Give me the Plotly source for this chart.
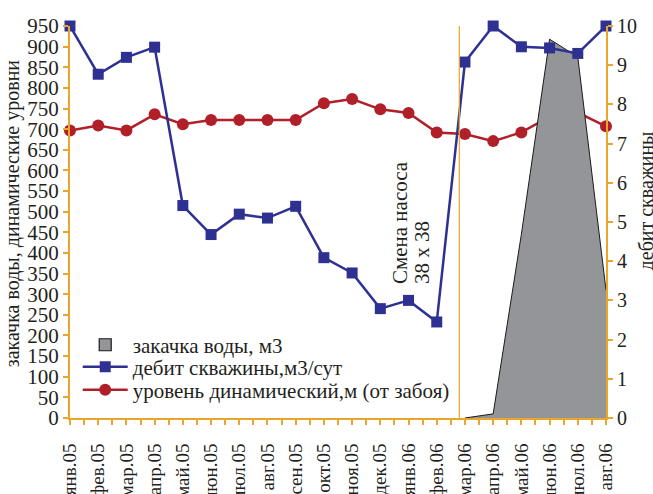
import plotly.graph_objects as go

months = ['янв.05', 'фев.05', 'мар.05', 'апр.05', 'май.05', 'июн.05', 'июл.05',
          'авг.05', 'сен.05', 'окт.05', 'ноя.05', 'дек.05', 'янв.06', 'фев.06',
          'мар.06', 'апр.06', 'май.06', 'июн.06', 'июл.06', 'авг.06']
debit = [10.0, 8.77, 9.2, 9.46, 5.42, 4.68, 5.2, 5.1, 5.4, 4.09, 3.7, 2.79, 3.0,
         2.45, 9.08, 10.0, 9.47, 9.44, 9.3, 10.0]
level = [697, 709, 697, 736, 712, 722, 722, 722, 722, 763, 773, 748, 739, 692,
         688, 671, 692, 730, 740, 707]
water = [None] * 14 + [0, 10, 445, 918, 875, 310]
left_ticks = list(range(0, 951, 50))
right_ticks = list(range(0, 11))

x = list(range(len(months)))
ORANGE = '#E8A62A'
BLUE = '#2E3192'
RED = '#B11F29'
GRAY = '#939598'
FONT = 'Liberation Serif'
TXT = '#231F20'

fig = go.Figure()
fig.add_trace(go.Scatter(
    x=x, y=debit, name='дебит скважины,м3/сут', yaxis='y2', mode='lines+markers',
    line=dict(color=BLUE, width=2.5), marker=dict(symbol='square', size=11, color=BLUE),
    cliponaxis=False, legend='legend2'))
fig.add_trace(go.Scatter(
    x=x, y=level, name='уровень динамический,м (от забоя)', mode='lines+markers',
    line=dict(color=RED, width=2.5), marker=dict(symbol='circle', size=12, color=RED),
    cliponaxis=False, legend='legend3'))
fig.add_trace(go.Scatter(
    x=x, y=water, name='закачка воды, м3', mode='lines', fill='tozeroy',
    line=dict(color='#1a1a1a', width=1), fillcolor=GRAY, showlegend=False))
# legend swatch for the area (bordered rectangle)
fig.add_trace(go.Bar(
    x=[None], y=[None], name='закачка воды, м3', legend='legend',
    marker=dict(color=GRAY, line=dict(color='#1a1a1a', width=1.2))))

fig.add_shape(type='line', xref='x', yref='paper', x0=13.8, x1=13.8, y0=0, y1=1,
              line=dict(color=ORANGE, width=1.2))

fig.add_annotation(text='Смена насоса', xref='x', yref='y', x=11.72, y=320,
                   textangle=-90, showarrow=False, yanchor='bottom', xanchor='center',
                   font=dict(family=FONT, size=21, color=TXT))
fig.add_annotation(text='38 х 38', xref='x', yref='y', x=12.5, y=320,
                   textangle=-90, showarrow=False, yanchor='bottom', xanchor='center',
                   font=dict(family=FONT, size=21, color=TXT))

fig.add_annotation(text='закачка воды, динамические уровни', xref='paper', yref='paper',
                   x=-0.106, y=0.523, textangle=-90, showarrow=False,
                   xanchor='center', yanchor='middle',
                   font=dict(family=FONT, size=20, color=TXT))
fig.add_annotation(text='дебит скважины', xref='paper', yref='paper',
                   x=1.075, y=0.553, textangle=-90, showarrow=False,
                   xanchor='center', yanchor='middle',
                   font=dict(family=FONT, size=20, color=TXT))

leg_common = dict(x=0.0144, xanchor='left', yanchor='middle',
                  bgcolor='rgba(0,0,0,0)', font=dict(family=FONT, size=21, color=TXT),
                  itemwidth=45)

fig.update_layout(
    width=653, height=494,
    margin=dict(l=70, r=47, t=26, b=76, autoexpand=False),
    paper_bgcolor='white', plot_bgcolor='white',
    font=dict(family=FONT, size=20, color=TXT),
    showlegend=True,
    legend=dict(y=0.186, **leg_common),
    legend2=dict(y=0.130, **leg_common),
    legend3=dict(y=0.071, **leg_common),
    xaxis=dict(range=[0, 19], tickvals=x, ticktext=months, tickangle=-90,
               showgrid=False, zeroline=False, showline=True, linecolor=ORANGE,
               linewidth=2, ticks='outside', ticklen=5, tickcolor=ORANGE, tickwidth=2,
               minor=dict(dtick=0.5, ticks='outside', ticklen=5, tickcolor=ORANGE,
                          tickwidth=2, showgrid=False),
               ticklabelstandoff=11,
               tickfont=dict(family=FONT, size=19)),
    yaxis=dict(range=[0, 950], tickvals=left_ticks, showgrid=False, zeroline=False,
               showline=True, linecolor=ORANGE, linewidth=2, ticks='outside',
               ticklen=5, tickcolor=ORANGE, tickwidth=2,
               tickfont=dict(family=FONT, size=21)),
    yaxis2=dict(range=[0, 10], tickvals=right_ticks, overlaying='y', side='right',
                showgrid=False, zeroline=False, showline=True, linecolor=ORANGE,
                linewidth=2, ticks='outside', ticklen=5, tickcolor=ORANGE, tickwidth=2,
                tickfont=dict(family=FONT, size=20)),
)

fig.write_html('out.html', config={'displayModeBar': False},
               post_script="document.body.style.margin='0';")
